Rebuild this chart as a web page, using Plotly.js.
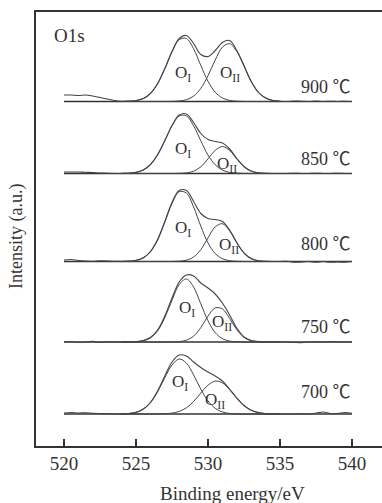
<!DOCTYPE html>
<html><head><meta charset="utf-8">
<script src="https://cdn.plot.ly/plotly-3.0.1.min.js"></script>
<style>html,body{margin:0;padding:0;background:#fff;}#chart{width:382px;height:503px;}</style>
</head><body><div id="chart"></div>
<script>
// Sample temperatures (top to bottom) and the vertical stacking offset of each spectrum
const temperatures = ['900 ℃', '850 ℃', '800 ℃', '750 ℃', '700 ℃'];
const baselineOffsets = [344.5, 272.5, 184.5, 104, 32];
const baselineRange = [520, 540];
const xTicks = [520, 525, 530, 535, 540];

// Binding energy grids (eV)
const envEnergy = [520,520.5,521,521.5,522,522.5,523,523.5,524,524.5,525,525.5,526,526.5,527,527.5,528,528.5,529,529.5,530,530.5,531,531.5,532,532.5,533,533.5,534,534.5,535,535.5,536,536.5,537,537.5,538,538.5,539,539.5,540];
const compEnergy = [524,524.5,525,525.5,526,526.5,527,527.5,528,528.5,529,529.5,530,530.5,531,531.5,532,532.5,533,533.5,534,534.5,535];

// Measured envelopes (intensity above each baseline, a.u.)
const env900 = [6.5,6.5,6,6.5,5.5,4,2.5,1,0.3,0.5,1,3,8,18,33,50,63,66,58,47,45,51,59,61,51,36,20,9,3.5,1,0.3,0,0.5,0.3,0,0.5,0,0.3,0,0.3,0];
const env850 = [1.5,1.5,1.5,1.2,1,0.5,0.3,0,0.1,0.3,1.1,3.5,9,19,33,48,58.5,59.5,51,40,34,32,30.5,24.5,15,7,2.5,0.7,0.2,0,0,0,0.3,0,0,0.2,0,0,0.3,0,0];
const env800 = [1.5,2,1,0.5,0.3,0.8,0.5,0.2,0.2,0.4,1.2,3.8,10,22,40,59,71,71,60,48,43,42,40,31.5,19,8.5,3,0.8,0.2,0,0,0.3,-0.8,-0.5,0,-0.8,0,-0.8,-0.5,-0.8,0];
const env750 = [0,0.5,-0.5,0,0.6,-0.5,0.3,0,0.2,0.3,0.5,1.5,4.5,12,26,44,60,67,66,59,54,48,39,27,14,5,1.5,0.5,0,0,0.2,0,-0.5,-0.7,0,0.3,0,0.4,0,0.3,0];
const env700 = [1,1.5,1,1.2,0.8,0.5,0.3,0,0.1,0.5,1.6,5,11.5,23,38,52,59,58,52,46.5,42,38,33,25,16,8.5,3.8,1.4,0.4,0,0,0,0,0.2,0,0.8,2,0.5,0.5,1.5,0.8];

// Fitted O_I components
const oI900 = [0,0.2,0.8,2.8,7.8,17.6,32.6,49.6,61.8,63.0,52.7,36.1,20.2,9.3,3.5,1.1,0.3,0,0,0,0,0,0];
const oI850 = [0.1,0.3,1.1,3.4,8.7,18.5,32.7,47.7,57.6,57.6,47.7,32.7,18.5,8.7,3.4,1.1,0.3,0.1,0,0,0,0,0];
const oI800 = [0,0.2,1.0,3.5,9.6,21.5,39.2,58.0,69.8,68.4,54.5,35.3,18.6,8.0,2.8,0.8,0.2,0,0,0,0,0,0];
const oI750 = [0,0.1,0.3,1.2,4.1,11.2,24.3,41.8,57.5,63.0,54.9,38.2,21.2,9.4,3.3,0.9,0.2,0,0,0,0,0,0];
const oI700 = [0.1,0.5,1.6,4.7,11.2,22.2,36.3,49.0,55.0,50.9,39.1,24.8,13.1,5.7,2.0,0.6,0.1,0,0,0,0,0,0];

// Fitted O_II components
const oII900 = [0,0,0,0,0,0,0,0.1,0.5,1.8,5.4,13.1,25.8,41.5,54.3,57.8,50.0,35.2,20.1,9.4,3.6,1.1,0.3];
const oII850 = [0,0,0,0,0,0,0,0,0.1,0.6,2.3,6.7,14.6,23.1,27.0,23.1,14.6,6.7,2.3,0.6,0.1,0,0];
const oII800 = [0,0,0,0,0,0,0,0,0.3,1.3,4.5,11.9,23.6,34.6,37.8,30.7,18.6,8.4,2.8,0.7,0.1,0,0];
const oII750 = [0,0,0,0,0,0,0,0.1,0.4,1.8,5.9,14.4,25.9,34.1,33.1,23.6,12.3,4.7,1.3,0.3,0,0,0];
const oII700 = [0,0,0,0,0,0.1,0.2,0.9,2.6,6.2,12.5,20.9,28.8,32.9,31.1,24.3,15.7,8.4,3.7,1.4,0.4,0.1,0];

const envelopes = [env900, env850, env800, env750, env700];
const compI = [oI900, oI850, oI800, oI750, oI700];
const compII = [oII900, oII850, oII800, oII750, oII700];

const ink = '#333333';
const curveInk = '#444444';
const serif = '"Liberation Serif", "Times New Roman", serif';
const traces = [];
const shift = (arr, off) => arr.map(v => v + off);

temperatures.forEach((t, i) => {
  const off = baselineOffsets[i];
  traces.push({x: baselineRange, y: [off, off], mode: 'lines', line: {color: ink, width: 1.6}, hoverinfo: 'skip'});
  traces.push({x: compEnergy, y: shift(compI[i], off), mode: 'lines', line: {color: curveInk, width: 1, shape: 'spline', smoothing: 1}, name: 'O I ' + t});
  traces.push({x: compEnergy, y: shift(compII[i], off), mode: 'lines', line: {color: curveInk, width: 1, shape: 'spline', smoothing: 1}, name: 'O II ' + t});
  traces.push({x: envEnergy, y: shift(envelopes[i], off), mode: 'lines', line: {color: curveInk, width: 1.1, shape: 'spline', smoothing: 1}, name: t});
});

// Label positions
const tempLabelY = [359, 287, 202, 119, 54];
const oILabelPos = [[527.57, 372], [527.57, 296], [527.57, 217], [527.85, 137], [527.36, 63]];
const oIILabelPos = [[530.69, 372], [530.49, 281], [530.63, 200], [530.14, 123], [529.65, 45]];

const annotations = [];
temperatures.forEach((t, i) => {
  annotations.push({x: 540.1, y: tempLabelY[i], xref: 'x', yref: 'y', text: t, showarrow: false, xanchor: 'right', yanchor: 'middle',
    font: {family: '"Liberation Serif", "Noto Sans CJK SC", serif', size: 18, color: ink}});
  annotations.push({x: oILabelPos[i][0], y: oILabelPos[i][1], xref: 'x', yref: 'y', text: 'O<sub>I</sub>', showarrow: false, xanchor: 'left', yanchor: 'middle',
    font: {family: serif, size: 17, color: ink}});
  annotations.push({x: oIILabelPos[i][0], y: oIILabelPos[i][1], xref: 'x', yref: 'y', text: 'O<sub>II</sub>', showarrow: false, xanchor: 'left', yanchor: 'middle',
    font: {family: serif, size: 17, color: ink}});
});
annotations.push({x: 519.17, y: 411, xref: 'x', yref: 'y', text: 'O1s', showarrow: false, xanchor: 'left', yanchor: 'middle',
  font: {family: serif, size: 19, color: ink}});
annotations.push({x: 531.67, y: 0, xref: 'x', yref: 'paper', yshift: -47, text: 'Binding energy/eV', showarrow: false, xanchor: 'center', yanchor: 'middle',
  font: {family: serif, size: 19, color: ink}});
annotations.push({x: 0, y: 0.4816, xref: 'paper', yref: 'paper', xshift: -19, text: 'Intensity (a.u.)', textangle: -90, showarrow: false, xanchor: 'center', yanchor: 'middle',
  font: {family: serif, size: 18, color: ink}});

const layout = {
  width: 382, height: 503,
  margin: {l: 36, r: 0, t: 12, b: 57},
  paper_bgcolor: '#fff', plot_bgcolor: '#fff',
  showlegend: false,
  xaxis: {range: [518.056, 542.083], tickvals: xTicks, ticktext: xTicks.map(String), ticks: 'inside', ticklen: 7, tickwidth: 1.5, tickcolor: ink,
    showline: true, linecolor: ink, linewidth: 1.6, mirror: true, showgrid: false, zeroline: false,
    tickfont: {family: serif, size: 19, color: ink}},
  yaxis: {range: [0, 434], showticklabels: false, ticks: '', showline: true, linecolor: ink, linewidth: 1.6, showgrid: false, zeroline: false},
  annotations: annotations
};

Plotly.newPlot('chart', traces, layout, {staticPlot: true, displayModeBar: false});
</script>
</body></html>
